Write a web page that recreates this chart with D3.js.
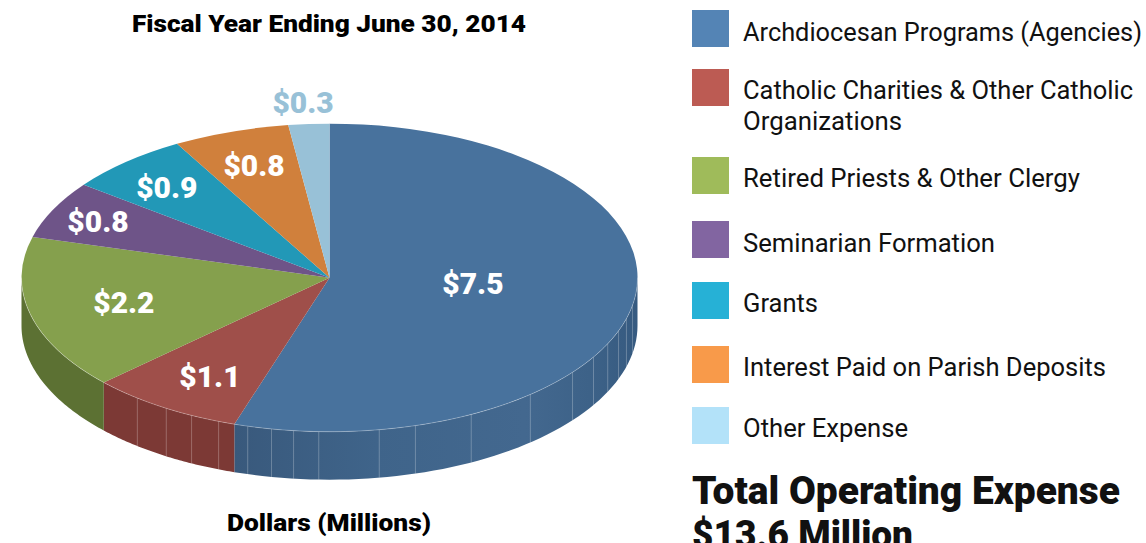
<!DOCTYPE html>
<html><head><meta charset="utf-8">
<script src="https://cdn.jsdelivr.net/npm/d3@7"></script>
<style>html,body{margin:0;padding:0;background:#fff;overflow:hidden}svg{display:block}text{font-family:Roboto,sans-serif}</style>
</head><body><svg id="c" width="1146" height="543"></svg>
<script>
const categories=["Archdiocesan Programs (Agencies)","Catholic Charities & Other Catholic Organizations","Retired Priests & Other Clergy","Seminarian Formation","Grants","Interest Paid on Parish Deposits","Other Expense"];
const values=[7.48,1.1,2.2,0.82,0.88,0.83,0.29];
const valueLabels=["$7.5","$1.1","$2.2","$0.8","$0.9","$0.8","$0.3"];
const topColors=["#48729d","#9f4f4a","#85a04d","#6e5488","#2298b7","#d0803c","#98c1d7"];
const wallColors=["#3f648a","#7c3935","#5c7133","#54406a","#1a7590","#a3632d","#7698a9"];
const legendColors=["#5484b5","#bc5b53","#9fbb5a","#8265a1","#26b1d6","#f89a4a","#b3e2f9"];
const labelColors=["#fff","#fff","#fff","#fff","#fff","#fff","#98c1d7"];
const labelRadial=[0.467,0.747,0.686,0.837,0.791,0.772,1.144];
const labelDegrees=[94.2,211.3,256.7,296.1,318.1,341.5,355.7];
const seamDegrees=[100.3,105.4,110.2,115.4,121,127.9,139.3,152.6,163.8,170.7,182,186.7,190.85,195.4,201.1,206.6,212,218.6];

const svg=d3.select("#c");
const cx=329.5,cy=277.7,rx=308,ry=154,depth=48;
const sx=d3.scaleLinear().domain([-1,1]).range([cx-rx,cx+rx]);
const sy=d3.scaleLinear().domain([-1,1]).range([cy-ry,cy+ry]);
const px=a=>sx(Math.sin(a)), py=a=>sy(-Math.cos(a));
const arcs=d3.pie().sort(null).value(d=>d)(values);

const defs=svg.append("defs");
const g=defs.append("linearGradient").attr("id","blueWall").attr("gradientUnits","userSpaceOnUse")
  .attr("x1",cx-95).attr("x2",cx+rx).attr("y1",0).attr("y2",0);
[[0,"#39597c"],[0.35,"#3f648a"],[0.72,"#43688f"],[0.88,"#3d6288"],[1,"#365a80"]].forEach(s=>g.append("stop").attr("offset",s[0]).attr("stop-color",s[1]));

// walls (front half only)
const line=d3.line();
const lo=Math.PI/2, hi=3*Math.PI/2;
arcs.forEach((d,i)=>{
  const a0=Math.max(d.startAngle,lo), a1=Math.min(d.endAngle,hi);
  if(a1<=a0)return;
  const t=d3.range(0,61).map(k=>a0+(a1-a0)*k/60);
  const pts=t.map(a=>[px(a),py(a)]).concat(t.slice().reverse().map(a=>[px(a),py(a)+depth]));
  svg.append("path").attr("d",line(pts)+"Z").attr("fill",i===0?"url(#blueWall)":wallColors[i]);
});
// seams
svg.append("g").selectAll("line").data(seamDegrees).join("line")
  .attr("x1",d=>px(d*Math.PI/180)).attr("x2",d=>px(d*Math.PI/180))
  .attr("y1",d=>py(d*Math.PI/180)).attr("y2",d=>py(d*Math.PI/180)+depth)
  .attr("stroke","#fff").attr("stroke-opacity",0.25).attr("stroke-width",1);

// top face
const unit=d3.arc().innerRadius(0).outerRadius(1);
svg.append("g").attr("transform",`translate(${cx},${cy}) scale(${rx},${ry})`)
  .selectAll("path").data(arcs).join("path").attr("d",unit)
  .attr("fill",(d,i)=>topColors[i]);
// highlight along front top edge
const rim=d3.range(0,181).map(k=>lo+(hi-lo)*k/180).map(a=>[px(a),py(a)]);
svg.append("path").attr("d",line(rim)).attr("fill","none").attr("stroke","#fff").attr("stroke-opacity",0.35).attr("stroke-width",0.8);

// value labels
const rad=d=>d*Math.PI/180;
svg.append("g").selectAll("text").data(arcs).join("text")
  .attr("x",(d,i)=>cx+labelRadial[i]*rx*Math.sin(rad(labelDegrees[i])))
  .attr("y",(d,i)=>cy-labelRadial[i]*ry*Math.cos(rad(labelDegrees[i])))
  .attr("dy","0.36em").attr("text-anchor","middle")
  .attr("font-size",30).attr("font-weight",900)
  .attr("fill",(d,i)=>labelColors[i]).text((d,i)=>valueLabels[i]);

// titles
const fit=(sel,w)=>sel.attr("textLength",w).attr("lengthAdjust","spacingAndGlyphs");
fit(svg.append("text").attr("x",132).attr("y",32).attr("font-size",24).attr("font-weight",900).attr("fill","#000").text("Fiscal Year Ending June 30, 2014"),394);
fit(svg.append("text").attr("x",227).attr("y",531).attr("font-size",24).attr("font-weight",900).attr("fill","#000").text("Dollars (Millions)"),204);

// legend
const rowTop=[10,69,157,221,282,346,407];
const rowBase=[41,99,187,252,312,376,437];
const rowLines=[[["Archdiocesan Programs (Agencies)",399]],[["Catholic Charities & Other Catholic",390],["Organizations",159]],[["Retired Priests & Other Clergy",337]],[["Seminarian Formation",252]],[["Grants",75]],[["Interest Paid on Parish Deposits",363]],[["Other Expense",165]]];
const leg=svg.append("g").selectAll("g").data(categories).join("g");
leg.append("rect").attr("x",692).attr("y",(d,i)=>rowTop[i]).attr("width",37).attr("height",37).attr("fill",(d,i)=>legendColors[i]);
leg.each(function(d,i){
  rowLines[i].forEach((l,j)=>{
    fit(d3.select(this).append("text").attr("x",743).attr("y",rowBase[i]+j*31).attr("font-size",25.5).attr("fill","#111").text(l[0]),l[1]);
  });
});
fit(svg.append("text").attr("x",692).attr("y",504).attr("font-size",39).attr("font-weight",900).attr("fill","#111").text("Total Operating Expense"),428);
fit(svg.append("text").attr("x",692).attr("y",548).attr("font-size",39).attr("font-weight",900).attr("fill","#111").text("$13.6 Million"),221);
</script></body></html>
